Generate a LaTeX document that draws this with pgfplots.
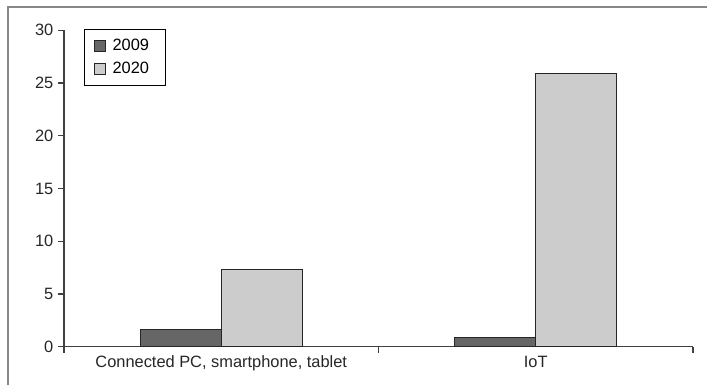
\documentclass[border=0pt]{standalone}
\usepackage{pgfplots}
\pgfplotsset{compat=1.18}
\usepackage{fontspec}
\setmainfont{Liberation Sans}
\definecolor{darkbar}{HTML}{666666}
\definecolor{lightbar}{HTML}{CCCCCC}
\definecolor{axisgray}{HTML}{404040}
\definecolor{framegray}{HTML}{888888}
\begin{document}
\begin{tikzpicture}
\useasboundingbox (-48pt,-28.7pt) rectangle (482.25pt,260pt);
\draw[framegray, line width=1.1pt] (-42pt,-29pt) -- (-42pt,254.8pt) -- (483pt,254.8pt);
\begin{axis}[
  at={(0pt,0pt)}, anchor=south west,
  scale only axis, width=471.75pt, height=237.3pt,
  xmin=0, xmax=2, ymin=0, ymax=30,
  axis x line=bottom, axis y line=left,
  axis line style={-, axisgray, line width=0.9pt},
  tick style={axisgray, line width=0.9pt},
  tick align=outside, major tick length=4.5pt,
  ytick={0,5,10,15,20,25,30},
  xtick={0,1,2}, xticklabels={},
  extra x ticks={0.5,1.5},
  extra x tick labels={{Connected PC, smartphone, tablet}, IoT},
  extra x tick style={major tick length=0pt, xticklabel style={yshift=-3.5pt}},
  /pgf/number format/assume math mode=true,
  tick label style={font=\fontsize{12.3}{14}\selectfont, text=black!85},
  yticklabel style={xshift=0pt},
  ybar, bar width=0.2576,
  legend style={at={(0.0318,1.004)}, anchor=north west, draw=black, line width=0.8pt,
    font=\fontsize{12.3}{14}\selectfont, inner xsep=7pt, inner ysep=5.5pt, row sep=3pt,
    legend cell align=left, nodes={inner xsep=5pt}},
  legend image code/.code={\draw[#1, line width=0.8pt] (0pt,-4pt) rectangle (8.25pt,4.25pt);},
]
\addplot[fill=darkbar, draw=black!85, line width=0.8pt, bar shift=-0.1288] coordinates {(0.5,1.6) (1.5,0.9)};
\addplot[fill=lightbar, draw=black!85, line width=0.8pt, bar shift=0.1288] coordinates {(0.5,7.3) (1.5,25.9)};
\legend{2009,2020}
\end{axis}
\end{tikzpicture}
\end{document}
